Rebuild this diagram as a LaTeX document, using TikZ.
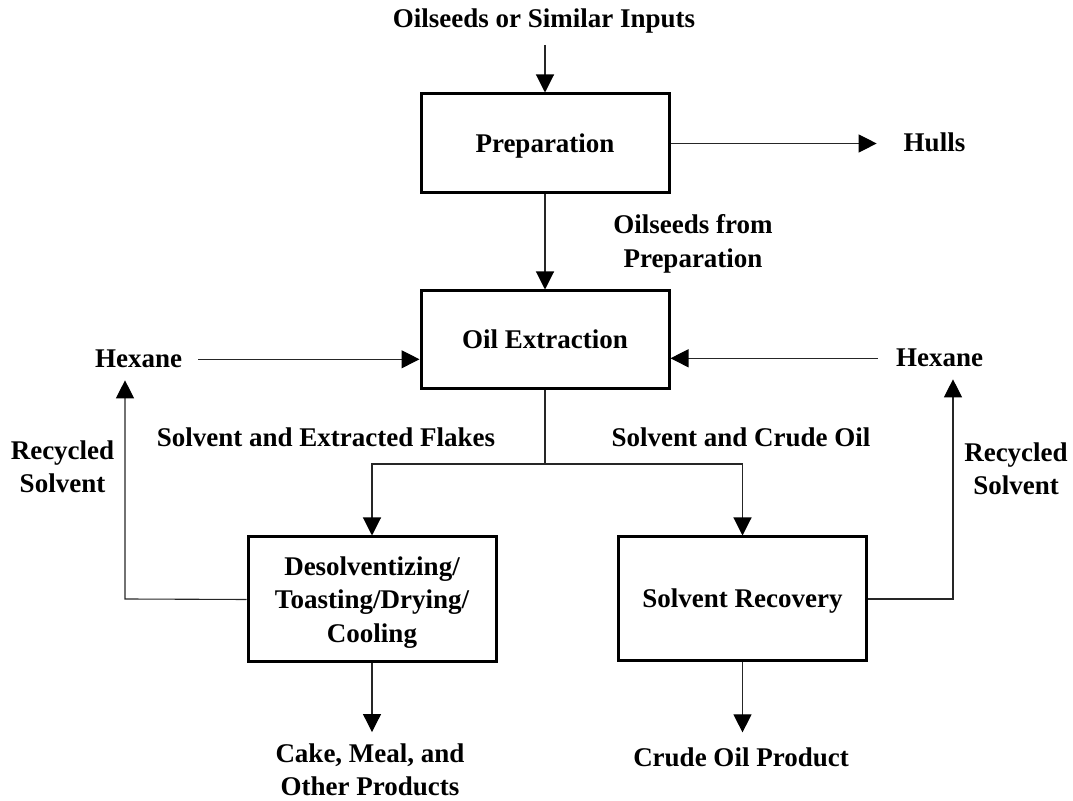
\documentclass[tikz,border=0pt]{standalone}
\usepackage{fontspec}
\setmainfont{Liberation Serif}
\usetikzlibrary{arrows.meta}
\begin{document}
\begin{tikzpicture}[x=0.5pt,y=-0.5pt,
  every node/.style={font=\fontsize{13.5}{16.75}\selectfont\bfseries},
  proc/.style={draw, line width=1.5pt, minimum width=124pt, align=center, inner sep=0pt},
  single/.style={text height=9pt, text depth=0pt},
  lbl/.style={align=center},
  conn/.style={line width=0.55pt, draw=black!85},
  arr/.style={conn, -{Triangle[length=9pt,width=9pt,color=black]}}]
\useasboundingbox (0,0) rectangle (1073,801);
% boxes
\node[proc, single, minimum height=49.5pt] (prep) at (545,143.5) {Preparation};
\node[proc, single, minimum height=49pt] (ext) at (545,340) {Oil Extraction};
\node[proc, text depth=0pt, minimum height=62.5pt] (des) at (372,599.5) {Desolventizing/\\Toasting/Drying/\\Cooling};
\node[proc, single, minimum height=62pt] (sr) at (742.5,599) {Solvent Recovery};
% labels
\node[anchor=base] (inp) at (544,28) {Oilseeds or Similar Inputs};
\node[anchor=base] (hulls) at (934.5,152) {Hulls};
\node[lbl] (ofp) at (693,243.7) {Oilseeds from\\Preparation};
\node[anchor=base] (hexL) at (138.5,368) {Hexane};
\node[anchor=base] (hexR) at (939.5,367) {Hexane};
\node[anchor=base] (sef) at (326,447) {Solvent and Extracted Flakes};
\node[anchor=base] (sco) at (741,447) {Solvent and Crude Oil};
\node[lbl] (rsL) at (62.5,467) {Recycled\\Solvent};
\node[lbl] (rsR) at (1016,469) {Recycled\\Solvent};
\node[lbl] (cake) at (370,770) {Cake, Meal, and\\Other Products};
\node[anchor=base] (cop) at (741,767) {Crude Oil Product};
% helper coordinates
\coordinate (j) at (545,464);
\coordinate (rl) at (125,599);
\coordinate (rr) at (953,599);
% connectors
\draw[arr, shorten <=2pt] (inp.south -| prep.north) -- (prep.north);
\draw[arr, shorten >=10pt] (prep.east) -- (prep.east -| hulls.west);
\draw[arr] (prep.south) -- (ext.north);
\draw[arr, shorten <=4.5pt] (hexL.east) -- (hexL.east -| ext.west);
\draw[arr, shorten <=5.5pt] (hexR.west) -- (hexR.west -| ext.east);
\draw[conn] (ext.south) -- (j);
\draw[arr] (j) -| (des.north);
\draw[arr] (j) -| (sr.north);
\draw[arr, shorten >=2.5pt] (des.west) -- (rl) -- (rl |- hexL.south);
\draw[arr, shorten >=2.5pt] (sr.east) -- (rr) -- (rr |- hexR.south);
\draw[arr, shorten >=2.3pt] (des.south) -- (des.south |- cake.north);
\draw[arr, shorten >=4.4pt] (sr.south) -- (sr.south |- cop.north);
\end{tikzpicture}
\end{document}
